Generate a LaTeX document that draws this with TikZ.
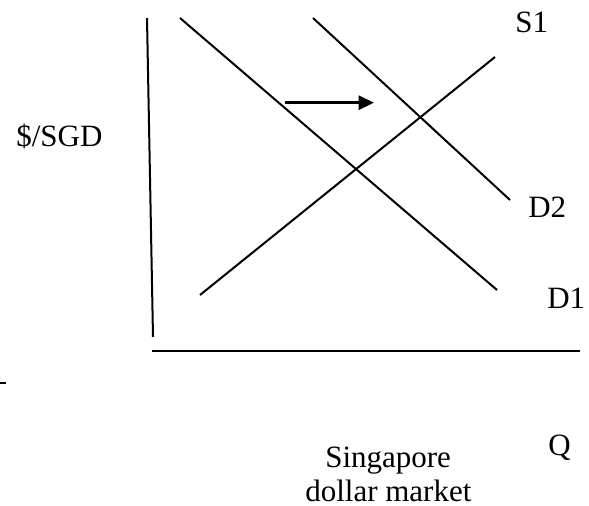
\documentclass[tikz,border=0pt]{standalone}
\usepackage{fontspec}
\setmainfont{Liberation Serif}
\usetikzlibrary{arrows.meta}
\tikzset{
  axisline/.style={line width=1.5pt},
  curveline/.style={line width=1.5pt},
  shiftarrow/.style={line width=2pt,-{Triangle[length=11.5pt,width=10.5pt]}},
  lbl/.style={inner sep=0pt,anchor=base west,font=\fontsize{23.25pt}{28pt}\selectfont}
}
\begin{document}
\begin{tikzpicture}[x=0.75pt,y=-0.75pt]
\useasboundingbox (0,0) rectangle (589,506);
% axes
\coordinate (ytop) at (147,18);
\coordinate (ybot) at (153,337);
\coordinate (xl) at (152,351);
\coordinate (xr) at (580,351);
\coordinate (dashl) at (0,383);
\coordinate (dashr) at (6,383);
\draw[axisline] (ytop) -- (ybot);
\draw[axisline] (xl) -- (xr);
\draw[axisline] (dashl) -- (dashr);
% curves
\coordinate (d1a) at (180,18);
\coordinate (d1b) at (497,290);
\coordinate (d2a) at (313,18);
\coordinate (d2b) at (510,200);
\coordinate (s1a) at (200,295);
\coordinate (s1b) at (495,57);
\draw[curveline] (d1a) -- (d1b);
\draw[curveline] (d2a) -- (d2b);
\draw[curveline] (s1a) -- (s1b);
% shift arrow
\coordinate (arrA) at (285,102.7);
\coordinate (arrB) at (374,102.7);
\draw[shiftarrow] (arrA) -- (arrB);
% labels
\node[lbl] (ls1) at (515,33) {S1};
\node[lbl] (lsgd) at (16,147) {\$/SGD};
\node[lbl] (ld2) at (528,218) {D2};
\node[lbl] (ld1) at (547,308) {D1};
\node[lbl] (lq) at (548,455) {Q};
\node[lbl] (lsing) at (325,467) {Singapore};
\node[lbl] (ldm) at (305,501) {dollar market};
\end{tikzpicture}
\end{document}
